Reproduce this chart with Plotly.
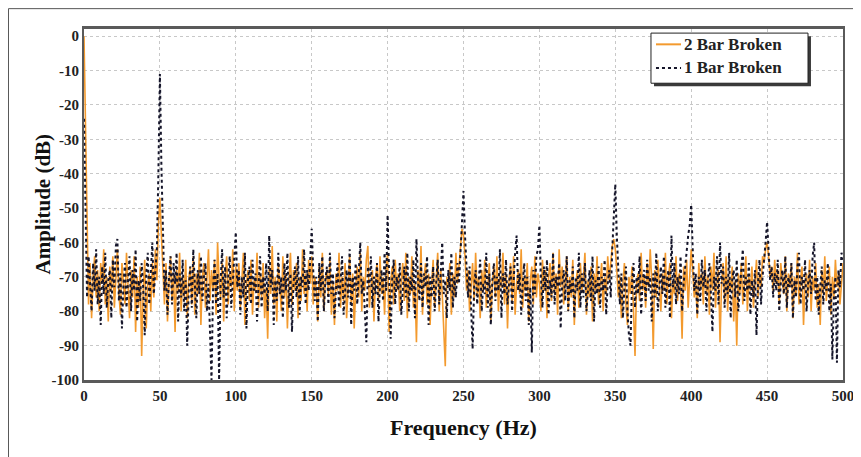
import plotly.graph_objects as go

freq_hz = list(range(0, 501))

bar2_broken_db = [
    0, -30, -62, -78, -66, -82, -70, -64, -76, -68,
    -80, -66, -72, -62, -78, -70, -83, -67, -74, -64,
    -79, -69, -62, -75, -81, -66, -71, -78, -63, -73,
    -82, -68, -76, -64, -86, -70, -79, -67, -93, -74,
    -65, -85, -72, -69, -80, -66, -76, -62, -71, -55,
    -47, -58, -70, -78, -66, -83, -72, -64, -77, -69,
    -86, -68, -74, -63, -80, -70, -76, -65, -82, -71,
    -67, -78, -64, -81, -69, -75, -63, -84, -70, -66,
    -79, -72, -62, -77, -68, -74, -65, -81, -60, -71,
    -76, -66, -83, -70, -64, -78, -69, -73, -62, -80,
    -67, -74, -66, -79, -70, -63, -84, -72, -68, -77,
    -65, -81, -71, -74, -63, -79, -69, -76, -66, -82,
    -73, -88, -67, -75, -61, -78, -70, -83, -66, -72,
    -80, -64, -76, -69, -85, -71, -63, -78, -68, -74,
    -66, -82, -70, -77, -62, -75, -69, -80, -65, -72,
    -64, -78, -70, -74, -83, -67, -76, -63, -80, -71,
    -68, -75, -65, -81, -72, -84, -69, -74, -63, -79,
    -70, -77, -66, -82, -71, -64, -78, -69, -85, -73,
    -67, -76, -63, -80, -70, -74, -65, -61, -79, -72,
    -68, -83, -71, -66, -77, -64, -75, -70, -81, -68,
    -63, -86, -72, -67, -78, -65, -74, -69, -80, -71,
    -66, -77, -63, -82, -70, -75, -64, -79, -72, -89,
    -68, -74, -61, -81, -70, -66, -78, -69, -84, -72,
    -65, -79, -71, -63, -80, -68, -75, -84, -96, -70,
    -73, -66, -81, -69, -76, -63, -72, -67, -62, -56,
    -58, -64, -74, -68, -80, -71, -66, -77, -63, -75,
    -70, -82, -68, -74, -65, -79, -71, -66, -83, -72,
    -67, -76, -64, -80, -70, -73, -63, -78, -69, -85,
    -71, -66, -77, -64, -81, -72, -68, -75, -62, -79,
    -70, -74, -66, -83, -71, -67, -78, -64, -76, -69,
    -72, -80, -65, -74, -68, -82, -70, -66, -77, -63,
    -75, -69, -81, -62, -73, -67, -78, -71, -64, -80,
    -70, -76, -65, -84, -72, -68, -79, -66, -74, -70,
    -63, -81, -71, -76, -67, -83, -69, -74, -64, -78,
    -72, -66, -80, -70, -75, -64, -71, -66, -61, -59,
    -62, -68, -76, -70, -82, -72, -66, -78, -84, -70,
    -75, -67, -80, -93, -72, -69, -77, -63, -74, -70,
    -79, -66, -73, -62, -71, -91, -68, -76, -65, -72,
    -80, -69, -74, -63, -78, -70, -66, -82, -71, -75,
    -64, -77, -69, -72, -88, -67, -74, -65, -79, -70,
    -62, -68, -76, -71, -82, -66, -73, -69, -78, -64,
    -75, -70, -81, -67, -74, -63, -79, -71, -68, -89,
    -72, -66, -77, -64, -80, -70, -74, -67, -83, -71,
    -90, -69, -75, -66, -78, -72, -64, -80, -70, -74,
    -67, -79, -71, -65, -76, -69, -73, -64, -66, -62,
    -60, -64, -70, -67, -74, -65, -72, -68, -78, -66,
    -71, -75, -64, -80, -69, -73, -66, -82, -70, -75,
    -63, -78, -71, -67, -84, -72, -69, -76, -65, -80,
    -70, -74, -66, -79, -72, -84, -68, -75, -64, -77,
    -71, -67, -81, -70, -76, -65, -73, -69, -78, -72,
    -66,
]

bar1_broken_db = [
    -24, -50, -76, -64, -72, -80, -66, -74, -62, -78,
    -70, -84, -67, -75, -63, -79, -71, -68, -82, -65,
    -73, -61, -59, -77, -69, -85, -72, -66, -79, -70,
    -64, -80, -68, -74, -62, -83, -71, -77, -66, -73,
    -87, -69, -63, -78, -70, -60, -75, -67, -62, -40,
    -11, -38, -62, -74, -68, -81, -70, -64, -78, -66,
    -72, -63, -83, -69, -76, -65, -80, -71, -90, -74,
    -67, -79, -62, -73, -82, -68, -75, -64, -77, -70,
    -66, -80, -72, -86, -100, -74, -65, -78, -69, -100,
    -71, -62, -76, -67, -82, -70, -64, -79, -72, -66,
    -57, -73, -68, -81, -70, -76, -63, -85, -71, -67,
    -78, -65, -74, -69, -83, -72, -64, -79, -70, -75,
    -66, -80, -58, -73, -68, -84, -71, -77, -63, -75,
    -70, -82, -66, -74, -63, -79, -69, -86, -72, -67,
    -76, -64, -81, -70, -73, -62, -78, -68, -74, -65,
    -56, -68, -77, -70, -83, -66, -74, -64, -80, -71,
    -67, -78, -63, -75, -69, -82, -72, -66, -79, -70,
    -64, -81, -73, -68, -76, -62, -84, -70, -74, -66,
    -78, -69, -60, -75, -71, -80, -89, -67, -73, -64,
    -79, -70, -75, -66, -83, -72, -68, -77, -63, -74,
    -52, -69, -88, -71, -65, -78, -70, -74, -66, -81,
    -72, -67, -76, -63, -80, -70, -74, -65, -82, -59,
    -71, -77, -66, -79, -69, -73, -64, -84, -70, -76,
    -67, -80, -72, -65, -78, -69, -60, -75, -71, -82,
    -68, -74, -63, -79, -70, -76, -66, -72, -64, -55,
    -45, -58, -70, -76, -67, -81, -91, -73, -68, -78,
    -70, -65, -80, -72, -75, -63, -79, -69, -84, -71,
    -66, -77, -70, -74, -62, -82, -69, -75, -65, -78,
    -72, -67, -80, -70, -63, -58, -74, -69, -81, -72,
    -66, -77, -70, -84, -73, -92, -68, -75, -64, -62,
    -55, -70, -79, -67, -74, -65, -81, -71, -76, -63,
    -78, -70, -73, -66, -85, -72, -68, -77, -64, -80,
    -71, -75, -67, -82, -70, -74, -63, -79, -69, -76,
    -66, -80, -72, -68, -77, -64, -83, -71, -75, -67,
    -79, -70, -74, -65, -81, -72, -68, -76, -62, -53,
    -43, -58, -71, -78, -69, -82, -73, -67, -80, -87,
    -90, -72, -66, -79, -70, -75, -64, -81, -71, -68,
    -77, -65, -74, -70, -83, -69, -76, -63, -80, -72,
    -67, -75, -64, -79, -71, -68, -82, -58, -73, -66,
    -78, -70, -75, -64, -80, -72, -67, -62, -58, -55,
    -49, -62, -74, -69, -81, -70, -77, -65, -73, -68,
    -80, -71, -66, -75, -86, -70, -74, -64, -78, -60,
    -72, -67, -79, -70, -75, -63, -82, -71, -68, -76,
    -65, -80, -73, -69, -62, -77, -70, -74, -66, -81,
    -71, -76, -68, -87, -72, -65, -78, -70, -66, -60,
    -54, -62, -71, -67, -76, -69, -74, -65, -80, -72,
    -68, -75, -64, -79, -70, -73, -66, -82, -71, -76,
    -67, -63, -78, -70, -74, -65, -80, -72, -68, -75,
    -64, -60, -77, -70, -81, -73, -67, -78, -71, -74,
    -66, -80, -72, -94, -76, -70, -95, -68, -73, -63,
    -65,
]

series_names = ["2 Bar Broken", "1 Bar Broken"]
series_colors = ["#F39A2E", "#15152A"]
x_ticks = [0, 50, 100, 150, 200, 250, 300, 350, 400, 450, 500]
y_ticks = [0, -10, -20, -30, -40, -50, -60, -70, -80, -90, -100]

SERIF = "Liberation Serif, Times New Roman, serif"

fig = go.Figure()
fig.add_trace(go.Scatter(
    x=freq_hz, y=bar2_broken_db, mode="lines", name=series_names[0],
    line=dict(color=series_colors[0], width=1.6), showlegend=False,
))
fig.add_trace(go.Scatter(
    x=freq_hz, y=bar1_broken_db, mode="lines", name=series_names[1],
    line=dict(color=series_colors[1], width=2, dash="dot"), showlegend=False,
))

# outer picture frame
fig.add_shape(type="rect", xref="paper", yref="paper",
              x0=-0.0995, x1=1.0198, y0=-0.3, y1=1.058,
              line=dict(color="#555555", width=1), fillcolor="rgba(0,0,0,0)", layer="below")

# legend: shadow, box, samples, labels
fig.add_shape(type="rect", xref="paper", yref="paper",
              x0=0.751, x1=0.9578, y0=0.8367, y1=0.9796,
              line=dict(width=0), fillcolor="#3a3a3a", layer="above")
fig.add_shape(type="rect", xref="paper", yref="paper",
              x0=0.7470, x1=0.9539, y0=0.8455, y1=0.9883,
              line=dict(color="#222222", width=1), fillcolor="white", layer="above")
legend_rows_y = [0.9563, 0.8892]
fig.add_shape(type="line", xref="paper", yref="paper",
              x0=0.7536, x1=0.7866, y0=legend_rows_y[0], y1=legend_rows_y[0],
              line=dict(color=series_colors[0], width=2), layer="above")
fig.add_shape(type="line", xref="paper", yref="paper",
              x0=0.7536, x1=0.7866, y0=legend_rows_y[1], y1=legend_rows_y[1],
              line=dict(color=series_colors[1], width=2, dash="dot"), layer="above")
for name, ly in zip(series_names, legend_rows_y):
    fig.add_annotation(text=name, xref="paper", yref="paper", x=0.7885, y=ly,
                       xanchor="left", yanchor="middle", showarrow=False,
                       font=dict(family=SERIF, size=17, color="#222222", weight="bold"))

# axis titles
fig.add_annotation(text="Frequency (Hz)", xref="paper", yref="paper",
                   x=0.5, y=-0.134, showarrow=False, xanchor="center", yanchor="middle",
                   font=dict(family=SERIF, size=22, color="#111111", weight="bold"))
fig.add_annotation(text="Amplitude (dB)", xref="paper", yref="paper",
                   x=-0.0553, y=0.5, showarrow=False, xanchor="center", yanchor="middle",
                   textangle=-90,
                   font=dict(family=SERIF, size=21, color="#111111", weight="bold"))

fig.update_layout(
    width=853, height=449,
    margin=dict(l=76, r=18, t=21, b=77),
    paper_bgcolor="white", plot_bgcolor="white",
    showlegend=False,
    xaxis=dict(
        range=[0, 500], tickvals=x_ticks, ticktext=[str(v) for v in x_ticks],
        showgrid=True, gridcolor="#c8c8c8", griddash="dot", gridwidth=1,
        showline=True, linecolor="#5a5a5a", linewidth=3, mirror=True,
        ticks="", zeroline=False, automargin=False,
        tickfont=dict(family=SERIF, size=15, color="#222222", weight="bold"),
    ),
    yaxis=dict(
        range=[-100, 2.1], tickvals=y_ticks, ticktext=[str(v) for v in y_ticks],
        showgrid=True, gridcolor="#c8c8c8", griddash="dot", gridwidth=1,
        showline=True, linecolor="#5a5a5a", linewidth=2, mirror=True,
        ticks="", zeroline=False, automargin=False,
        tickfont=dict(family=SERIF, size=15, color="#222222", weight="bold"),
    ),
)

fig.write_html("out.html")
